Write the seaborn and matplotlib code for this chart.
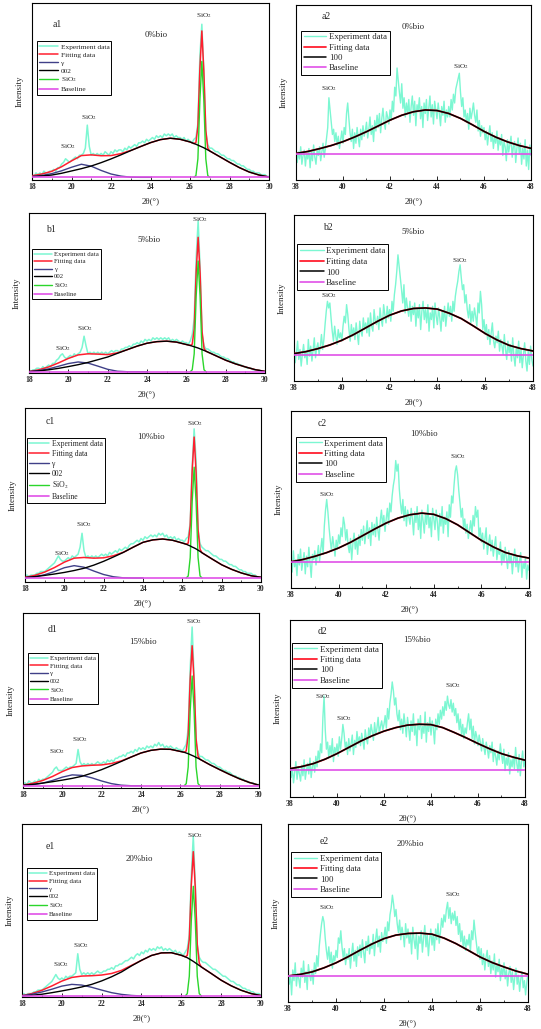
import numpy as np
import matplotlib
matplotlib.use('Agg')
import matplotlib.pyplot as plt
from matplotlib.ticker import MultipleLocator
import seaborn as sns

# ---------------- sample grids ----------------
LEFT_EXP_X = np.round(np.linspace(18, 30, 121), 2)
RIGHT_EXP_X = np.round(np.linspace(38, 48, 201), 3)
LEFT_FIT_X = [18, 18.5, 19, 19.5, 20, 20.5, 21, 21.5, 22, 22.5, 23, 23.5, 24, 24.5, 25, 25.5, 26,
              26.2, 26.3, 26.4, 26.5, 26.6, 26.7, 26.8, 26.9, 27.0,
              27.5, 28, 28.5, 29, 29.5, 30]
GAMMA_X = [18, 18.5, 19, 19.5, 20, 20.5, 21, 21.5, 22, 22.5, 23, 23.5, 24]
SIO2_X = [26.2, 26.3, 26.4, 26.5, 26.6, 26.7, 26.8, 26.9, 27.0]
RIGHT_FIT_X = [38, 38.5, 39, 39.5, 40, 40.5, 41, 41.5, 42, 42.5, 43, 43.5,
               44, 44.5, 45, 45.5, 46, 46.5, 47, 47.5, 48]

# ---------------- 2theta 18-30 panels (intensity in % of frame height) ----------------
a1_exp = [3, 2, 4, 3, 4, 3, 5, 4, 4, 5, 5, 6, 5, 7, 7, 9, 10, 12, 11, 10,
          11, 12, 13, 12, 14, 14, 15, 18, 31, 19, 14, 15, 14, 15, 14, 15, 14, 16, 15, 14,
          16, 15, 17, 16, 17, 17, 16, 18, 17, 19, 18, 19, 20, 19, 21, 21, 22, 21, 23, 22,
          23, 24, 23, 25, 24, 25, 24, 26, 25, 26, 25, 26, 24, 25, 24, 24, 23, 24, 22, 23,
          22, 21, 23, 24, 32, 70, 88, 60, 27, 20, 18, 18, 17, 16, 16, 15, 14, 14, 13, 12,
          12, 11, 11, 10, 9, 9, 8, 8, 7, 6, 6, 5, 5, 4, 4, 4, 3, 3, 3, 2, 2]
a1_fit = [2.4, 3.4, 4.9, 7.5, 10.8, 13.8, 14.2, 13.7, 13.8, 14.9, 16.7, 18.9, 21.1, 22.8, 23.6, 23.0, 21.5,
          20.6, 21.2, 30.2, 62.7, 84.2, 61.7, 28.1, 18.0, 16.4,
          13.2, 10.0, 7.0, 4.5, 2.8, 1.7]
a1_gamma = [2.0, 2.6, 3.6, 5.2, 7.2, 8.9, 7.8, 5.4, 3.4, 2.2, 1.6, 1.5, 1.5]
a1_002 = [1.9, 2.3, 2.8, 3.8, 5.1, 6.4, 7.9, 9.8, 11.9, 14.2, 16.6, 18.9, 21.1, 22.8, 23.6, 23.0, 21.5,
          20.6, 20.2, 19.7, 19.2, 18.7, 18.2, 17.6, 17.0, 16.4,
          13.2, 10.0, 7.0, 4.5, 2.8, 1.7]
a1_sio2 = [1.5, 2.5, 12, 45, 67, 45, 12, 2.5, 1.5]

b1_exp = [2, 1, 2, 2, 3, 3, 2, 4, 3, 4, 5, 4, 6, 6, 8, 9, 11, 12, 10, 9,
          10, 11, 10, 12, 11, 12, 13, 16, 23, 17, 12, 13, 12, 13, 12, 13, 12, 13, 12, 13,
          12, 13, 14, 13, 14, 14, 13, 15, 15, 16, 16, 17, 16, 18, 18, 19, 18, 20, 19, 21,
          20, 21, 20, 22, 21, 22, 21, 22, 21, 22, 21, 22, 20, 21, 20, 21, 20, 19, 20, 19,
          19, 18, 20, 24, 34, 72, 95, 66, 24, 17, 15, 15, 14, 13, 13, 12, 12, 11, 10, 10,
          9, 9, 8, 7, 7, 6, 6, 5, 5, 4, 4, 3, 3, 3, 2, 2, 2, 2, 1, 1, 1]
b1_fit = [0.9, 2.0, 3.8, 6.3, 9.1, 11.3, 12.0, 11.8, 11.5, 12.6, 14.6, 16.8, 18.6, 19.6, 19.9, 19.3, 17.8,
          17.2, 18.0, 27.6, 63.2, 84.8, 62.3, 25.8, 15.3, 13.6,
          10.8, 8.0, 5.7, 3.8, 2.1, 1.0]
b1_gamma = [0.9, 1.5, 2.6, 4.2, 5.9, 6.9, 6.2, 4.3, 2.3, 1.1, 0.8, 0.8, 0.8]
b1_002 = [0.8, 1.3, 2.0, 2.9, 4.0, 5.2, 6.6, 8.3, 10.0, 12.3, 14.6, 16.8, 18.6, 19.6, 19.9, 19.3, 17.8,
          17.2, 16.8, 16.4, 16.0, 15.6, 15.1, 14.6, 14.1, 13.6,
          10.8, 8.0, 5.7, 3.8, 2.1, 1.0]
b1_sio2 = [0.8, 2, 12, 48, 70, 48, 12, 2, 0.8]

c1_exp = [3, 4, 3, 4, 4, 4, 5, 5, 6, 6, 6, 7, 8, 9, 10, 11, 13, 15, 13, 12,
          12, 13, 14, 13, 15, 14, 15, 16, 20, 28, 18, 14, 15, 14, 15, 14, 15, 14, 15, 16,
          15, 16, 15, 17, 16, 17, 18, 17, 19, 18, 19, 20, 19, 21, 22, 22, 23, 24, 23, 25,
          24, 26, 25, 26, 27, 26, 27, 26, 28, 27, 28, 26, 27, 25, 26, 25, 26, 24, 25, 24,
          24, 23, 25, 26, 34, 66, 88, 70, 30, 22, 20, 19, 18, 18, 17, 16, 15, 15, 14, 13,
          13, 12, 12, 11, 10, 10, 9, 9, 8, 7, 7, 6, 6, 5, 5, 5, 4, 4, 3, 3, 3]
c1_fit = [2.7, 3.8, 5.7, 8.3, 11.4, 13.7, 14.1, 13.7, 13.9, 15.1, 17.1, 20.0, 22.8, 24.2, 24.7, 24.0, 22.4,
          21.7, 22.4, 32.4, 63.8, 83.3, 62.7, 30.0, 18.8, 16.8,
          13.3, 9.9, 7.3, 5.2, 3.6, 2.7]
c1_gamma = [2.4, 3.0, 4.2, 6.0, 8.2, 9.4, 8.5, 6.3, 4.3, 3.0, 2.4, 2.3, 2.3]
c1_002 = [2.6, 3.1, 3.8, 4.6, 5.5, 6.6, 7.9, 9.7, 11.9, 14.4, 17.0, 20.0, 22.8, 24.2, 24.7, 24.0, 22.4,
          21.7, 21.2, 20.7, 20.1, 19.6, 19.0, 18.3, 17.6, 16.8,
          13.3, 9.9, 7.3, 5.2, 3.6, 2.7]
c1_sio2 = [2.3, 3.5, 14, 46, 66, 46, 14, 3.5, 2.3]

d1_exp = [2, 3, 2, 4, 3, 3, 4, 3, 5, 4, 5, 5, 6, 7, 8, 9, 11, 12, 10, 10,
          10, 11, 12, 11, 12, 12, 13, 14, 22, 15, 13, 14, 13, 14, 13, 14, 13, 14, 15, 14,
          14, 15, 14, 16, 15, 16, 15, 17, 17, 18, 18, 19, 18, 20, 20, 21, 20, 22, 21, 23,
          22, 23, 22, 24, 23, 24, 23, 25, 24, 26, 24, 25, 23, 24, 23, 24, 23, 22, 23, 22,
          22, 21, 23, 25, 34, 68, 92, 64, 26, 20, 18, 18, 17, 16, 16, 15, 14, 14, 13, 12,
          12, 11, 10, 10, 9, 9, 8, 7, 7, 6, 6, 5, 5, 4, 4, 3, 3, 3, 2, 2, 2]
d1_fit = [1.7, 2.7, 4.3, 6.6, 9.4, 11.7, 12.6, 13.0, 13.2, 14.0, 15.5, 17.7, 20.0, 21.5, 22.2, 22.1, 20.9,
          20.4, 21.2, 30.3, 61.8, 81.3, 60.8, 28.2, 18.2, 16.4,
          13.3, 10.5, 7.8, 5.3, 3.2, 1.6]
d1_gamma = [1.4, 1.9, 2.8, 4.3, 6.2, 7.5, 7.2, 5.8, 4.0, 2.5, 1.6, 1.3, 1.3]
d1_002 = [1.6, 2.1, 2.8, 3.6, 4.5, 5.5, 6.7, 8.5, 10.5, 12.8, 15.2, 17.7, 20.0, 21.5, 22.2, 22.1, 20.9,
          20.4, 20.0, 19.6, 19.1, 18.6, 18.1, 17.5, 17.0, 16.4,
          13.3, 10.5, 7.8, 5.3, 3.2, 1.6]
d1_sio2 = [1.3, 2.5, 12, 44, 64, 44, 12, 2.5, 1.3]

e1_exp = [1, 2, 1, 2, 2, 2, 3, 3, 4, 4, 4, 5, 6, 7, 8, 9, 11, 13, 11, 10,
          11, 10, 12, 11, 12, 12, 13, 14, 25, 16, 13, 14, 13, 14, 13, 14, 13, 14, 15, 14,
          14, 15, 15, 16, 16, 17, 16, 18, 18, 19, 19, 20, 21, 21, 22, 23, 22, 24, 25, 24,
          26, 25, 27, 26, 28, 27, 28, 27, 29, 28, 29, 27, 28, 27, 28, 27, 26, 27, 25, 26,
          25, 24, 26, 28, 36, 70, 93, 66, 30, 23, 21, 20, 20, 19, 18, 17, 16, 16, 15, 14,
          13, 12, 12, 11, 10, 9, 9, 8, 7, 7, 6, 5, 5, 4, 4, 3, 3, 2, 2, 2, 1]
e1_fit = [0.8, 2.0, 3.9, 6.4, 9.2, 11.3, 12.1, 12.3, 12.7, 13.6, 15.4, 18.3, 21.2, 24.0, 25.5, 25.6, 24.1,
          23.2, 24.1, 33.4, 64.7, 84.0, 63.2, 30.4, 19.6, 17.4,
          13.6, 9.7, 6.5, 3.9, 2.0, 0.8]
e1_gamma = [0.8, 1.6, 2.9, 4.5, 6.3, 7.3, 6.9, 5.6, 4.0, 2.5, 1.5, 0.9, 0.6]
e1_002 = [0.6, 1.0, 1.6, 2.5, 3.5, 4.6, 5.8, 7.3, 9.3, 11.7, 14.5, 18.0, 21.2, 24.0, 25.5, 25.6, 24.1,
          23.2, 22.7, 22.0, 21.3, 20.6, 19.8, 19.0, 18.2, 17.4,
          13.6, 9.7, 6.5, 3.9, 2.0, 0.8]
e1_sio2 = [0.6, 2, 12, 44, 64, 44, 12, 2, 0.6]

LEFT_BASELINE = [1.5, 0.8, 2.3, 1.3, 0.6]

# ---------------- 2theta 38-48 panels ----------------
a2_exp = [18, 10, 16, 12, 19, 9, 14, 17, 8, 15, 12, 18, 7, 16, 11, 20, 13, 9, 17, 14,
          19, 11, 16, 21, 13, 18, 24, 30, 47, 40, 33, 26, 29, 22, 27, 20, 25, 18, 23, 28,
          21, 30, 26, 38, 44, 35, 27, 22, 29, 18, 27, 21, 30, 24, 19, 29, 23, 31, 25, 28,
          33, 24, 29, 36, 26, 31, 22, 34, 28, 37, 30, 38, 27, 35, 41, 33, 29, 39, 36, 32,
          40, 34, 45, 39, 53, 48, 64, 57, 50, 44, 55, 41, 47, 36, 44, 38, 46, 33, 42, 48,
          37, 45, 31, 43, 39, 47, 35, 42, 30, 44, 38, 46, 34, 41, 48, 36, 43, 32, 45, 40,
          35, 44, 38, 31, 42, 37, 45, 33, 40, 36, 42, 36, 46, 40, 49, 44, 52, 55, 58, 61,
          50, 42, 47, 36, 40, 33, 38, 29, 41, 35, 39, 44, 37, 33, 40, 28, 34, 25, 31, 27,
          30, 23, 28, 20, 26, 31, 22, 27, 18, 25, 21, 28, 17, 24, 20, 26, 14, 22, 19, 11,
          23, 16, 20, 25, 13, 19, 22, 10, 18, 24, 15, 21, 9, 18, 12, 23, 8, 17, 6, 20, 14]
a2_fit = [15.2, 16.3, 17.9, 19.7, 21.9, 24.6, 27.6, 30.9, 34.2, 37.0, 39.0, 40.0,
          39.7, 38.0, 35.2, 31.6, 27.8, 24.5, 21.8, 19.7, 18.1]

b2_exp = [20, 11, 17, 24, 13, 19, 9, 16, 22, 14, 18, 10, 25, 15, 21, 12, 19, 26, 14, 20,
          23, 16, 21, 28, 19, 25, 34, 42, 48, 44, 47, 38, 30, 24, 33, 27, 22, 31, 26, 29,
          24, 33, 39, 35, 46, 40, 31, 24, 34, 27, 32, 25, 35, 28, 22, 36, 30, 27, 38, 31,
          35, 29, 38, 27, 41, 33, 30, 43, 36, 34, 39, 31, 44, 37, 33, 46, 40, 35, 45, 38,
          43, 36, 48, 42, 52, 58, 66, 76, 69, 62, 55, 47, 58, 41, 50, 44, 39, 48, 36, 45,
          40, 47, 33, 44, 38, 46, 31, 42, 48, 37, 43, 35, 46, 30, 41, 37, 45, 32, 47, 39,
          34, 44, 38, 30, 42, 36, 45, 33, 40, 47, 39, 45, 36, 48, 42, 51, 56, 60, 66, 70,
          62, 55, 58, 47, 52, 43, 38, 46, 35, 42, 36, 44, 39, 33, 47, 41, 54, 46, 31, 37,
          28, 34, 25, 31, 22, 29, 35, 24, 20, 27, 23, 30, 18, 25, 21, 16, 28, 19, 13, 24,
          17, 22, 12, 26, 15, 9, 20, 14, 24, 11, 19, 8, 16, 23, 12, 6, 18, 10, 21, 13, 9]
b2_fit = [16.5, 17.7, 19.5, 21.7, 24.5, 28.0, 32.0, 36.0, 39.6, 42.2, 43.7, 44.0,
          43.3, 40.8, 37.6, 33.2, 28.6, 24.7, 21.5, 19.5, 18.1]

c2_exp = [17, 9, 21, 12, 16, 7, 19, 13, 22, 10, 15, 20, 8, 18, 12, 23, 14, 6, 19, 16,
          21, 13, 18, 24, 15, 22, 28, 19, 35, 44, 50, 43, 34, 27, 21, 29, 24, 18, 27, 22,
          30, 25, 34, 29, 40, 36, 27, 33, 24, 20, 28, 16, 25, 31, 22, 28, 19, 30, 24, 33,
          27, 35, 25, 31, 38, 28, 34, 24, 37, 30, 36, 29, 40, 33, 27, 38, 44, 35, 41, 32,
          39, 45, 36, 48, 43, 52, 58, 62, 72, 66, 70, 56, 48, 42, 50, 38, 46, 35, 44, 40,
          36, 45, 39, 30, 43, 37, 46, 33, 41, 28, 44, 38, 31, 42, 36, 47, 34, 40, 29, 45,
          39, 33, 44, 37, 27, 42, 35, 46, 31, 40, 36, 43, 29, 47, 40, 52, 48, 58, 66, 69,
          64, 55, 48, 40, 45, 34, 39, 31, 36, 28, 33, 38, 30, 41, 35, 46, 40, 44, 29, 34,
          26, 31, 22, 28, 34, 19, 25, 30, 21, 27, 18, 24, 29, 16, 22, 19, 26, 13, 20, 15,
          23, 17, 11, 21, 14, 19, 8, 16, 22, 12, 18, 9, 15, 20, 6, 14, 11, 17, 5, 13, 10]
c2_fit = [14.8, 16.1, 17.9, 20.0, 22.6, 25.8, 29.5, 33.2, 36.7, 39.5, 41.4, 42.3,
          41.6, 39.2, 35.7, 31.3, 26.9, 23.2, 20.1, 18.2, 16.9]

d2_exp = [19, 11, 16, 8, 14, 20, 10, 17, 13, 9, 18, 12, 21, 10, 15, 19, 13, 22, 11, 17,
          20, 14, 23, 17, 26, 21, 30, 25, 45, 57, 38, 27, 31, 22, 29, 24, 33, 20, 28, 25,
          30, 23, 34, 27, 33, 41, 36, 28, 31, 24, 33, 26, 30, 35, 24, 32, 28, 37, 30, 34,
          29, 36, 32, 27, 38, 33, 30, 39, 34, 41, 37, 32, 42, 35, 39, 45, 36, 40, 43, 38,
          41, 46, 39, 50, 44, 53, 58, 65, 60, 52, 56, 47, 43, 49, 38, 44, 36, 47, 41, 34,
          45, 39, 32, 43, 37, 47, 35, 41, 29, 44, 38, 46, 33, 40, 36, 48, 31, 42, 37, 45,
          35, 43, 39, 30, 44, 38, 47, 41, 49, 44, 51, 46, 54, 49, 57, 52, 50, 55, 48, 53,
          46, 50, 42, 47, 38, 44, 35, 41, 33, 39, 36, 42, 47, 38, 44, 33, 40, 30, 37, 34,
          29, 35, 31, 26, 33, 28, 24, 31, 27, 22, 29, 25, 31, 20, 27, 23, 18, 26, 21, 30,
          24, 19, 27, 15, 22, 18, 25, 13, 21, 17, 23, 16, 28, 19, 14, 24, 12, 20, 26, 17, 21]
d2_fit = [16.0, 17.2, 18.9, 21.4, 24.5, 28.0, 31.5, 34.6, 37.2, 39.2, 40.6, 41.1,
          40.9, 39.2, 36.4, 33.4, 30.2, 27.2, 24.5, 22.5, 20.8]

e2_exp = [20, 10, 15, 4, 18, 12, 22, 9, 16, 13, 8, 19, 14, 23, 11, 17, 7, 21, 15, 12,
          18, 10, 22, 16, 26, 20, 31, 38, 44, 48, 45, 36, 29, 24, 31, 22, 28, 19, 26, 23,
          29, 25, 36, 33, 40, 31, 25, 30, 21, 27, 24, 30, 19, 27, 33, 23, 29, 20, 31, 26,
          32, 25, 35, 28, 22, 34, 29, 37, 27, 33, 30, 38, 26, 35, 41, 31, 37, 28, 39, 34,
          37, 42, 33, 45, 40, 49, 53, 60, 55, 48, 52, 44, 39, 46, 35, 42, 38, 31, 44, 36,
          41, 33, 38, 27, 42, 35, 30, 39, 24, 37, 33, 40, 28, 36, 43, 31, 38, 26, 35, 41,
          32, 38, 29, 41, 35, 44, 33, 39, 47, 42, 49, 45, 52, 56, 47, 53, 44, 50, 46, 51,
          43, 48, 38, 44, 34, 40, 31, 37, 29, 35, 32, 38, 28, 40, 35, 46, 39, 33, 27, 31,
          24, 30, 21, 27, 18, 25, 29, 20, 26, 16, 23, 18, 27, 14, 21, 17, 24, 12, 19, 15,
          22, 13, 18, 9, 16, 20, 11, 17, 7, 14, 19, 10, 15, 6, 13, 17, 8, 12, 4, 11, 16]
e2_fit = [14.6, 15.5, 16.9, 19.2, 22.0, 25.4, 29.1, 32.6, 35.6, 37.6, 38.5, 38.7,
          38.1, 35.9, 32.8, 29.1, 25.3, 22.2, 19.7, 17.4, 15.6]

RIGHT_BASELINE = [14.9, 15.5, 14.5, 15.5, 14.4]

PANEL_TAGS = ['a', 'b', 'c', 'd', 'e']
BIO_LABELS = ['0%bio', '5%bio', '10%bio', '15%bio', '20%bio']

# ---------------- colours ----------------
EXP_COLOR = '#7cf7d2'
FIT_COLOR = '#ff1f2f'
GAMMA_COLOR = '#404088'
C002_COLOR = 'black'
SIO2_COLOR = '#2bd62b'
BASE_COLOR = '#e050e8'

W, H = 541, 1029


def add_axes_px(fig, x0, y0, x1, y1):
    return fig.add_axes([x0 / W, 1 - y1 / H, (x1 - x0) / W, (y1 - y0) / H])


def style_axes(ax, xlim, major, minor):
    ax.set_xlim(*xlim)
    ax.set_ylim(0, 100)
    ax.set_yticks([])
    ax.set_xticks(major)
    ax.xaxis.set_minor_locator(MultipleLocator(minor))
    ax.tick_params(axis='x', which='major', direction='in', length=3, width=0.7,
                   labelsize=5.5, pad=2.5, top=False)
    ax.tick_params(axis='x', which='minor', direction='in', length=1.6, width=0.6, top=False)
    for lbl in ax.get_xticklabels():
        lbl.set_fontweight('bold')
    for sp in ax.spines.values():
        sp.set_visible(True)
        sp.set_color('black')
        sp.set_linewidth(0.8)
    ax.set_xlabel('2θ(°)', fontsize=6.5, labelpad=4)
    ax.set_ylabel('Intensity', fontsize=6.5, labelpad=6)


def draw_left(ax, exp, fit, gamma, c002, sio2, base):
    sns.lineplot(x=LEFT_EXP_X, y=exp, ax=ax, color=EXP_COLOR, lw=1.1, label='Experiment data', zorder=1)
    sns.lineplot(x=LEFT_FIT_X, y=fit, ax=ax, color=FIT_COLOR, lw=1.1, label='Fitting data', zorder=3)
    sns.lineplot(x=GAMMA_X, y=gamma, ax=ax, color=GAMMA_COLOR, lw=1.0, label='γ', zorder=4)
    sns.lineplot(x=LEFT_FIT_X, y=c002, ax=ax, color=C002_COLOR, lw=1.0, label='002', zorder=5)
    sns.lineplot(x=SIO2_X, y=sio2, ax=ax, color=SIO2_COLOR, lw=1.0, label='SiO$_2$', zorder=4)
    sns.lineplot(x=[18, 30], y=[base, base], ax=ax, color=BASE_COLOR, lw=1.2, label='Baseline', zorder=6)


def draw_right(ax, exp, fit, base):
    sns.lineplot(x=RIGHT_EXP_X, y=exp, ax=ax, color=EXP_COLOR, lw=1.0, label='Experiment data', zorder=1)
    sns.lineplot(x=RIGHT_FIT_X, y=fit, ax=ax, color=FIT_COLOR, lw=1.3, label='Fitting data', zorder=3)
    sns.lineplot(x=RIGHT_FIT_X, y=fit, ax=ax, color=C002_COLOR, lw=1.1, label='100', zorder=4)
    sns.lineplot(x=[38, 48], y=[base, base], ax=ax, color=BASE_COLOR, lw=1.2, label='Baseline', zorder=5)


def put_legend(ax, anchor, fs):
    ax.legend(loc='upper left', bbox_to_anchor=anchor, fontsize=fs, frameon=True,
              fancybox=False, edgecolor='black', framealpha=1, borderpad=0.3,
              labelspacing=0.25, handlelength=2.6, handletextpad=0.3, borderaxespad=0)
    ax.get_legend().get_frame().set_linewidth(0.7)


sns.set_theme(style='ticks')
plt.rcParams['font.family'] = ['Liberation Serif', 'DejaVu Serif']
plt.rcParams['mathtext.fontset'] = 'stix'

fig = plt.figure(figsize=(W / 100, H / 100), dpi=100)

left_data = [
    (a1_exp, a1_fit, a1_gamma, a1_002, a1_sio2),
    (b1_exp, b1_fit, b1_gamma, b1_002, b1_sio2),
    (c1_exp, c1_fit, c1_gamma, c1_002, c1_sio2),
    (d1_exp, d1_fit, d1_gamma, d1_002, d1_sio2),
    (e1_exp, e1_fit, e1_gamma, e1_002, e1_sio2),
]
right_data = [(a2_exp, a2_fit), (b2_exp, b2_fit), (c2_exp, c2_fit), (d2_exp, d2_fit), (e2_exp, e2_fit)]

# layout: frame pixel boxes, legend anchors, label spots, SiO2 annotations
left_boxes = [(32, 3, 269, 180), (29, 213, 265, 373), (25, 408, 261, 582),
              (23, 613, 259, 788), (22, 824, 261, 997)]
right_boxes = [(296, 5, 531, 180), (294, 215, 533, 381), (291, 411, 529, 588),
               (290, 620, 525, 797), (288, 824, 528, 1002)]
left_leg = [((0.021, 0.783), 5.3), ((0.014, 0.774), 4.9), ((0.007, 0.83), 5.6),
            ((0.021, 0.77), 5.0), ((0.02, 0.743), 5.0)]
right_leg = [((0.021, 0.853), 6.3), ((0.014, 0.823), 6.5), ((0.021, 0.855), 6.4),
             ((0.007, 0.872), 6.4), ((0.014, 0.844), 6.4)]
left_tag = [((19.3, 87.7), (24.3, 81.7)), ((19.1, 89.5), (24.1, 83.3)), ((19.3, 92.2), (24.4, 83.6)),
            ((19.5, 90.3), (24.1, 83.7)), ((19.4, 86.9), (23.9, 79.5))]
right_tag = [((39.3, 93.3), (43.0, 87.6)), ((39.4, 92.4), (43.0, 90.0)), ((39.3, 93.0), (43.6, 87.0)),
             ((39.4, 93.4), (43.4, 88.7)), ((39.5, 90.0), (43.1, 88.7))]
left_sio2 = [[(26.7, 93), (20.9, 35), (19.8, 19)],
             [(26.7, 96), (20.85, 27.5), (19.7, 15.5)],
             [(26.65, 91), (21.0, 33), (19.85, 16.5)],
             [(26.7, 95), (20.9, 27.5), (19.7, 21)],
             [(26.7, 93.5), (20.95, 30), (19.95, 18.5)]]
right_sio2 = [[(39.4, 52.4), (45.0, 64.8)],
              [(39.45, 51.7), (44.95, 72.8)],
              [(39.5, 52.6), (45.0, 74.2)],
              [(39.4, 56.6), (40.3, 44.3), (44.95, 63.2)],
              [(39.6, 53.1), (44.85, 60.6)]]

for i in range(5):
    # left column, 18-30 deg
    ax = add_axes_px(fig, *left_boxes[i])
    exp, fit, gamma, c002, sio2 = left_data[i]
    draw_left(ax, exp, fit, gamma, c002, sio2, LEFT_BASELINE[i])
    style_axes(ax, (18, 30), [18, 20, 22, 24, 26, 28, 30], 1)
    put_legend(ax, *left_leg[i])
    (tx, ty), (bx, by) = left_tag[i]
    ax.text(tx, ty, PANEL_TAGS[i] + '1', fontsize=7, ha='center', va='center')
    ax.text(bx, by, BIO_LABELS[i], fontsize=6.3, ha='center', va='center')
    for sx, sy in left_sio2[i]:
        ax.text(sx, sy, 'SiO$_2$', fontsize=5.2, ha='center', va='center')

    # right column, 38-48 deg
    ax = add_axes_px(fig, *right_boxes[i])
    exp, fit = right_data[i]
    draw_right(ax, exp, fit, RIGHT_BASELINE[i])
    style_axes(ax, (38, 48), [38, 40, 42, 44, 46, 48], 1)
    put_legend(ax, *right_leg[i])
    (tx, ty), (bx, by) = right_tag[i]
    ax.text(tx, ty, PANEL_TAGS[i] + '2', fontsize=7, ha='center', va='center')
    ax.text(bx, by, BIO_LABELS[i], fontsize=6.3, ha='center', va='center')
    for sx, sy in right_sio2[i]:
        ax.text(sx, sy, 'SiO$_2$', fontsize=5.2, ha='center', va='center')

fig.savefig('out.png', dpi=100, facecolor='white')
plt.close(fig)
print('saved out.png')
